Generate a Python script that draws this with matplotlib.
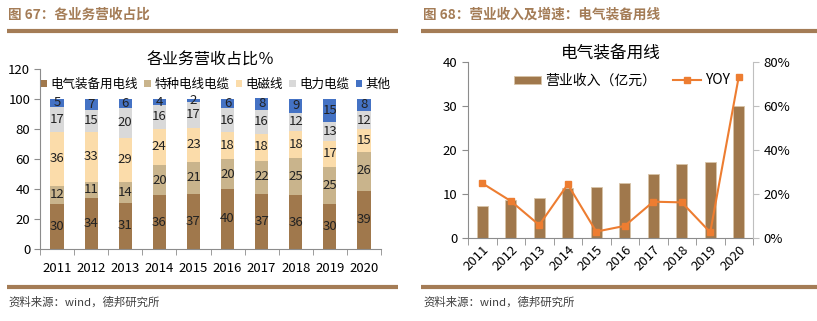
import numpy as np
import matplotlib
matplotlib.use("Agg")
import matplotlib.pyplot as plt
from matplotlib.lines import Line2D

plt.rcParams['font.family'] = ['Noto Sans CJK SC', 'DejaVu Sans']

# ---- data: left chart (share of revenue, %) ----
years = ['2011', '2012', '2013', '2014', '2015', '2016', '2017', '2018', '2019', '2020']
seg_names = ['电气装备用电线', '特种电线电缆', '电磁线', '电力电缆', '其他']
equip_wire = [30, 34, 31, 36, 37, 40, 37, 36, 30, 39]
special_cable = [12, 11, 14, 20, 21, 20, 22, 25, 25, 26]
magnet_wire = [36, 33, 29, 24, 23, 18, 18, 18, 17, 15]
power_cable = [17, 15, 20, 16, 17, 16, 16, 12, 13, 12]
other = [5, 7, 6, 4, 2, 6, 8, 9, 15, 8]

# ---- data: right chart ----
revenue = [7.3, 8.6, 9.1, 11.4, 11.7, 12.4, 14.5, 16.8, 17.2, 29.9]   # 亿元
yoy = [24.9, 16.8, 5.9, 24.4, 2.9, 5.5, 16.5, 16.2, 2.6, 73.3]        # %

seg_colors = ['#A0784C', '#C9B48C', '#FBDCAA', '#D9D9D9', '#4472C4']
brown = '#A47C56'
axis_col = '#8C8C8C'

W, H = 817, 321
fig = plt.figure(figsize=(W / 100, H / 100), dpi=100)


def px(x0, y0, x1, y1):
    # pixel box (top-left origin) -> figure fraction rect
    return [x0 / W, 1 - y1 / H, (x1 - x0) / W, (y1 - y0) / H]


def hline(x0, x1, y):
    fig.add_artist(Line2D([x0 / W, x1 / W], [1 - y / H, 1 - y / H],
                          color=brown, lw=3, solid_capstyle='butt'))


# headers / footers
fig.text(8 / W, 1 - 15 / H, '图 67：各业务营收占比', color=brown, fontsize=9.8,
         fontweight='bold', va='center', ha='left')
fig.text(423 / W, 1 - 15 / H, '图 68：营业收入及增速：电气装备用线', color=brown, fontsize=9.8,
         fontweight='bold', va='center', ha='left')
hline(7, 398, 31)
hline(421, 817, 31)
hline(7, 398, 287)
hline(421, 817, 287)
fig.text(8 / W, 1 - 302 / H, '资料来源：wind，德邦研究所', color='#404040', fontsize=8.2,
         va='center', ha='left')
fig.text(423 / W, 1 - 302 / H, '资料来源：wind，德邦研究所', color='#404040', fontsize=8.2,
         va='center', ha='left')

# ---------------- left chart ----------------
ax = fig.add_axes(px(40, 69, 381, 249))
x = np.arange(len(years))
bottom = np.zeros(len(years))
for name, vals, c in zip(seg_names,
                         [equip_wire, special_cable, magnet_wire, power_cable, other],
                         seg_colors):
    bars = ax.bar(x, vals, width=0.39, bottom=bottom, color=c, label=name)
    ax.bar_label(bars, labels=[str(v) for v in vals], label_type='center',
                 fontsize=9.5, color='#222222')
    bottom += np.array(vals)

ax.set_xlim(-0.5, len(years) - 0.5)
ax.set_ylim(0, 120)
ax.set_yticks(range(0, 121, 20))
ax.set_xticks(x)
ax.set_xticklabels(years)
ax.set_xticks(np.arange(-0.5, len(years), 1), minor=True)
ax.tick_params(axis='x', which='major', length=0, labelsize=9.5, pad=9)
ax.tick_params(axis='x', which='minor', length=4, color=axis_col, direction='out')
ax.tick_params(axis='y', length=4, color=axis_col, labelsize=9.5, pad=3)
for s in ['top', 'right']:
    ax.spines[s].set_visible(False)
for s in ['left', 'bottom']:
    ax.spines[s].set_color(axis_col)
ax.set_title('各业务营收占比％', fontsize=11.5, pad=1)
ax.legend(ncol=5, loc='center', bbox_to_anchor=(0.515, 0.915), frameon=False,
          fontsize=9, handlelength=0.55, handleheight=0.55, handletextpad=0.25,
          columnspacing=0.5, borderaxespad=0)

# ---------------- right chart ----------------
ax2 = fig.add_axes(px(468, 62, 753, 238))
ax2.bar(x, revenue, width=0.39, color='#A0784C', edgecolor='#D8C4A8', linewidth=0.6,
        label='营业收入（亿元）')
ax2.set_ylim(0, 40)
ax2.set_yticks(range(0, 41, 10))
ax2.set_xlim(-0.5, len(years) - 0.5)
ax2.set_xticks(x)
ax2.set_xticklabels(years, rotation=45, ha='right', rotation_mode='anchor')
ax2.set_xticks(np.arange(-0.5, len(years), 1), minor=True)
ax2.tick_params(axis='x', which='major', length=0, labelsize=9.5, pad=4)
ax2.tick_params(axis='x', which='minor', length=5, color=axis_col, direction='out')
ax2.tick_params(axis='y', length=4, color=axis_col, labelsize=9.5)
for s in ['top', 'right']:
    ax2.spines[s].set_visible(False)
for s in ['left', 'bottom']:
    ax2.spines[s].set_color(axis_col)

ax3 = ax2.twinx()
ax3.plot(x, yoy, color='#ED7D31', lw=1.5, marker='s', markersize=5, label='YOY')
ax3.set_ylim(0, 80)
ax3.set_yticks(range(0, 81, 20))
ax3.set_yticklabels([f'{v}%' for v in range(0, 81, 20)])
ax3.tick_params(axis='y', length=4, color='#BFBFBF', labelsize=9.5)
for s in ['top', 'left', 'bottom']:
    ax3.spines[s].set_visible(False)
ax3.spines['right'].set_color('#BFBFBF')
ax2.set_title('电气装备用线', fontsize=12, pad=2)

h1, l1 = ax2.get_legend_handles_labels()
h2, l2 = ax3.get_legend_handles_labels()
ax3.legend(h1 + h2, l1 + l2, ncol=2, loc='center', bbox_to_anchor=(0.54, 0.895),
           frameon=False, fontsize=10, handlelength=2.0, handleheight=0.5,
           handletextpad=0.3, columnspacing=1.2, borderaxespad=0)

fig.savefig('out.png', dpi=100)
